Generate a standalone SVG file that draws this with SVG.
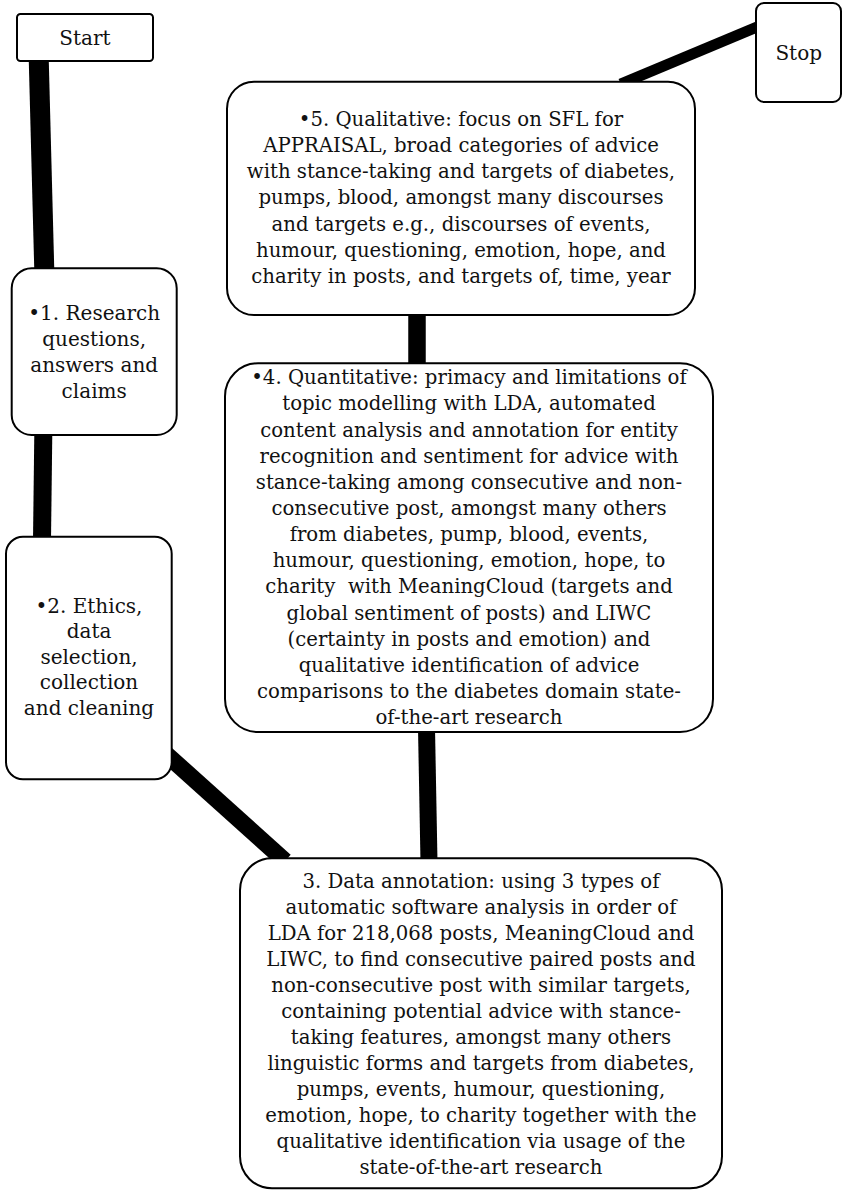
<svg xmlns="http://www.w3.org/2000/svg" width="842" height="1191" viewBox="0 0 842 1191">
<style>
.box{fill:#fff;stroke:#000;stroke-width:2}
.c{stroke:#000;stroke-linecap:butt;fill:none}
text{font-family:"DejaVu Serif","Liberation Serif",serif;fill:#111;text-anchor:middle}
.s{font-size:20px}
.b{font-size:19.7px}
</style>
<rect width="842" height="1191" fill="#fff"/>
<g id="connectors">
<line class="c" x1="38.7" y1="58" x2="44.3" y2="271" stroke-width="20"/>
<line class="c" x1="43.3" y1="433" x2="42" y2="540" stroke-width="18"/>
<line class="c" x1="166" y1="754" x2="285" y2="861" stroke-width="17"/>
<line class="c" x1="426.5" y1="728" x2="429" y2="862" stroke-width="17"/>
<line class="c" x1="417" y1="311" x2="417" y2="367" stroke-width="17.5"/>
<line class="c" x1="620.7" y1="84" x2="760" y2="25.8" stroke-width="11"/>
</g>
<g id="start">
<rect class="box" x="17" y="14" width="136" height="47" rx="3.5"/>
<text class="s" x="85" y="45">Start</text>
</g>
<g id="stop">
<rect class="box" x="756" y="3" width="85" height="99" rx="8"/>
<text class="s" x="798.7" y="60">Stop</text>
</g>
<g id="node1">
<rect class="box" x="11.7" y="268.3" width="165" height="166.7" rx="20"/>
<text class="s" x="94.2" y="320">•1. Research</text>
<text class="s" x="94.2" y="346">questions,</text>
<text class="s" x="94.2" y="372">answers and</text>
<text class="s" x="94.2" y="398">claims</text>
</g>
<g id="node2">
<rect class="box" x="6" y="536.7" width="165.7" height="242.6" rx="17"/>
<text class="s" x="89" y="612.7">•2. Ethics,</text>
<text class="s" x="89" y="638.3">data</text>
<text class="s" x="89" y="663.6">selection,</text>
<text class="s" x="89" y="689.3">collection</text>
<text class="s" x="89" y="715">and cleaning</text>
</g>
<g id="node5">
<rect class="box" x="227" y="81.7" width="468" height="233.3" rx="27"/>
<text class="b" x="461" y="125.7">•5. Qualitative: focus on SFL for</text>
<text class="b" x="461" y="151.9">APPRAISAL, broad categories of advice</text>
<text class="b" x="461" y="178.1">with stance-taking and targets of diabetes,</text>
<text class="b" x="461" y="204.3">pumps, blood, amongst many discourses</text>
<text class="b" x="461" y="230.5">and targets e.g., discourses of events,</text>
<text class="b" x="461" y="256.7">humour, questioning, emotion, hope, and</text>
<text class="b" x="461" y="283">charity in posts, and targets of, time, year</text>
</g>
<g id="node4">
<rect class="box" x="225" y="363.3" width="488" height="368.7" rx="33"/>
<text class="b" x="469" y="384.3">•4. Quantitative: primacy and limitations of</text>
<text class="b" x="469" y="410.4">topic modelling with LDA, automated</text>
<text class="b" x="469" y="436.6">content analysis and annotation for entity</text>
<text class="b" x="469" y="462.7">recognition and sentiment for advice with</text>
<text class="b" x="469" y="488.8">stance-taking among consecutive and non-</text>
<text class="b" x="469" y="514.9">consecutive post, amongst many others</text>
<text class="b" x="469" y="541.1">from diabetes, pump, blood, events,</text>
<text class="b" x="469" y="567.2">humour, questioning, emotion, hope, to</text>
<text class="b" x="469" y="593.3" xml:space="preserve">charity  with MeaningCloud (targets and</text>
<text class="b" x="469" y="619.5">global sentiment of posts) and LIWC</text>
<text class="b" x="469" y="645.6">(certainty in posts and emotion) and</text>
<text class="b" x="469" y="671.7">qualitative identification of advice</text>
<text class="b" x="469" y="697.9">comparisons to the diabetes domain state-</text>
<text class="b" x="469" y="724">of-the-art research</text>
</g>
<g id="node3">
<rect class="box" x="240" y="858.3" width="482" height="330" rx="32"/>
<text class="b" x="481" y="887.7">3. Data annotation: using 3 types of</text>
<text class="b" x="481" y="913.8">automatic software analysis in order of</text>
<text class="b" x="481" y="939.8">LDA for 218,068 posts, MeaningCloud and</text>
<text class="b" x="481" y="965.9">LIWC, to find consecutive paired posts and</text>
<text class="b" x="481" y="991.9">non-consecutive post with similar targets,</text>
<text class="b" x="481" y="1018">containing potential advice with stance-</text>
<text class="b" x="481" y="1044">taking features, amongst many others</text>
<text class="b" x="481" y="1070.1">linguistic forms and targets from diabetes,</text>
<text class="b" x="481" y="1096.1">pumps, events, humour, questioning,</text>
<text class="b" x="481" y="1122.2">emotion, hope, to charity together with the</text>
<text class="b" x="481" y="1148.2">qualitative identification via usage of the</text>
<text class="b" x="481" y="1174.3">state-of-the-art research</text>
</g>
</svg>
